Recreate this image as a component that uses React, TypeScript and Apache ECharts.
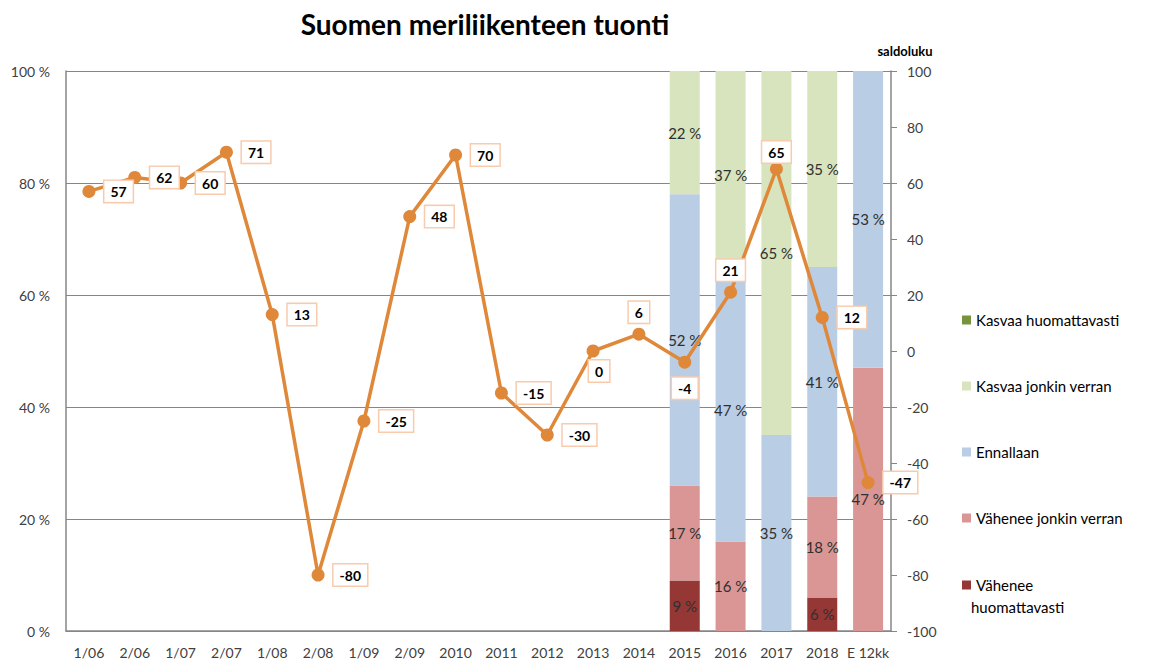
import React, { useEffect, useRef } from "react";
import * as echarts from "echarts";

const categories = ["1/06", "2/06", "1/07", "2/07", "1/08", "2/08", "1/09", "2/09", "2010", "2011", "2012", "2013", "2014", "2015", "2016", "2017", "2018", "E 12kk"];
const saldoluku = [57, 62, 60, 71, 13, -80, -25, 48, 70, -15, -30, 0, 6, -4, 21, 65, 12, -47];
const labelPositions = ["right", "right", "right", "right", "right", "right", "right", "right", "right", "right", "right", "bottomRight", "top", "bottom", "top", "topClose", "right", "right"];
const vaheneeHuom = [null, null, null, null, null, null, null, null, null, null, null, null, null, 9, 0, 0, 6, 0];
const vaheneeJonkin = [null, null, null, null, null, null, null, null, null, null, null, null, null, 17, 16, 0, 18, 47];
const ennallaan = [null, null, null, null, null, null, null, null, null, null, null, null, null, 52, 47, 35, 41, 53];
const kasvaaJonkin = [null, null, null, null, null, null, null, null, null, null, null, null, null, 22, 37, 65, 35, 0];
const kasvaaHuom = [null, null, null, null, null, null, null, null, null, null, null, null, null, 0, 0, 0, 0, 0];
const pctTicks = [0, 20, 40, 60, 80, 100];

const FONT = "Lato, 'Open Sans', sans-serif";
const TXT = "#404040";

export default function App() {
  const ref = useRef<HTMLDivElement>(null);
  useEffect(() => {
    if (!ref.current) return;
    const chart = echarts.init(ref.current, null, { renderer: "svg" });
    const barLabel = {
      show: true,
      position: "inside",
      color: "#303030",
      fontSize: 15,
      fontFamily: FONT,
      formatter: (p: any) => (p.value > 0 ? p.value + " %" : ""),
    };
    const mkBar = (name: string, data: any[], color: string) => ({
      name,
      type: "bar",
      stack: "pct",
      data,
      barWidth: 30,
      itemStyle: { color },
      label: barLabel,
      yAxisIndex: 0,
    });
    const lineData = saldoluku.map((v, i) => {
      const pos = labelPositions[i];
      let label: any = { position: pos };
      if (pos === "bottomRight") label = { position: "bottom", offset: [6, -6] };
      if (pos === "top") label = { position: "top", distance: 5 };
      if (pos === "topClose") label = { position: "top", distance: 0 };
      return { value: v, label };
    });
    chart.setOption({
      animation: false,
      textStyle: { fontFamily: FONT },
      title: {
        text: "Suomen meriliikenteen tuonti",
        left: 480,
        textAlign: "center",
        top: 5,
        textStyle: { fontSize: 28, fontWeight: "bold", color: "#000", fontFamily: FONT },
      },
      grid: { left: 66, right: 267, top: 71, bottom: 31, containLabel: false },
      legend: [
        {
          orient: "vertical",
          left: 957,
          top: 306,
          itemWidth: 9,
          itemHeight: 9,
          itemGap: 48,
          icon: "rect",
          textStyle: { fontSize: 15, color: "#000", fontFamily: FONT, lineHeight: 18 },
          data: ["Kasvaa huomattavasti", "Kasvaa jonkin verran", "Ennallaan", "Vähenee jonkin verran"],
        },
        {
          orient: "vertical",
          left: 957,
          top: 571,
          itemWidth: 9,
          itemHeight: 9,
          icon: "rect",
          formatter: () => "Vähenee",
          textStyle: { fontSize: 15, color: "#000", fontFamily: FONT, lineHeight: 18 },
          data: ["Vähenee huomattavasti"],
        },
      ],
      graphic: [
        {
          type: "text",
          left: 971,
          top: 599,
          style: { text: "huomattavasti", fontSize: 15, fill: "#000", fontFamily: FONT },
        },
      ],
      xAxis: {
        type: "category",
        data: categories,
        axisLine: { lineStyle: { color: "#868686", width: 1.5 } },
        axisTick: { show: false },
        axisLabel: { color: TXT, fontSize: 14, margin: 14, fontFamily: FONT, interval: 0 },
      },
      yAxis: [
        {
          type: "value",
          min: 0,
          max: 100,
          interval: 20,
          axisLine: { show: true, lineStyle: { color: "#868686", width: 1.5 } },
          axisTick: { show: false },
          splitLine: { lineStyle: { color: "#868686", width: 1 } },
          axisLabel: { color: TXT, fontSize: 14, margin: 16, fontFamily: FONT, formatter: (v: number) => (pctTicks.includes(v) ? v + " %" : "") },
        },
        {
          type: "value",
          min: -100,
          max: 100,
          interval: 20,
          position: "right",
          name: "saldoluku",
          nameLocation: "end",
          nameGap: 14,
          nameTextStyle: { fontSize: 13, fontWeight: "bold", color: "#000", fontFamily: FONT, align: "center", padding: [0, 0, 0, 28] },
          axisLine: { show: true, lineStyle: { color: "#868686", width: 1.5 } },
          axisTick: { show: true, inside: false, length: 6, lineStyle: { color: "#868686" } },
          splitLine: { show: false },
          axisLabel: { color: TXT, fontSize: 14, margin: 16, fontFamily: FONT },
        },
      ],
      series: [
        mkBar("Vähenee huomattavasti", vaheneeHuom, "#953735"),
        mkBar("Vähenee jonkin verran", vaheneeJonkin, "#D99694"),
        mkBar("Ennallaan", ennallaan, "#B9CDE5"),
        mkBar("Kasvaa jonkin verran", kasvaaJonkin, "#D7E4BD"),
        mkBar("Kasvaa huomattavasti", kasvaaHuom, "#77933C"),
        {
          name: "saldoluku",
          type: "line",
          yAxisIndex: 1,
          data: lineData,
          symbol: "circle",
          symbolSize: 13,
          lineStyle: { color: "#E0883A", width: 3.5 },
          itemStyle: { color: "#E0883A" },
          z: 10,
          label: {
            show: true,
            distance: 9,
            color: "#000",
            fontWeight: "bold",
            fontSize: 14,
            fontFamily: FONT,
            backgroundColor: "#fff",
            borderColor: "#F8CBAD",
            borderWidth: 1.5,
            padding: [4, 6, 3, 6],
          },
        },
      ],
    });
    return () => chart.dispose();
  }, []);
  return <div ref={ref} style={{ width: 1158, height: 662, position: "absolute", left: 0, top: 0 }} />;
}
